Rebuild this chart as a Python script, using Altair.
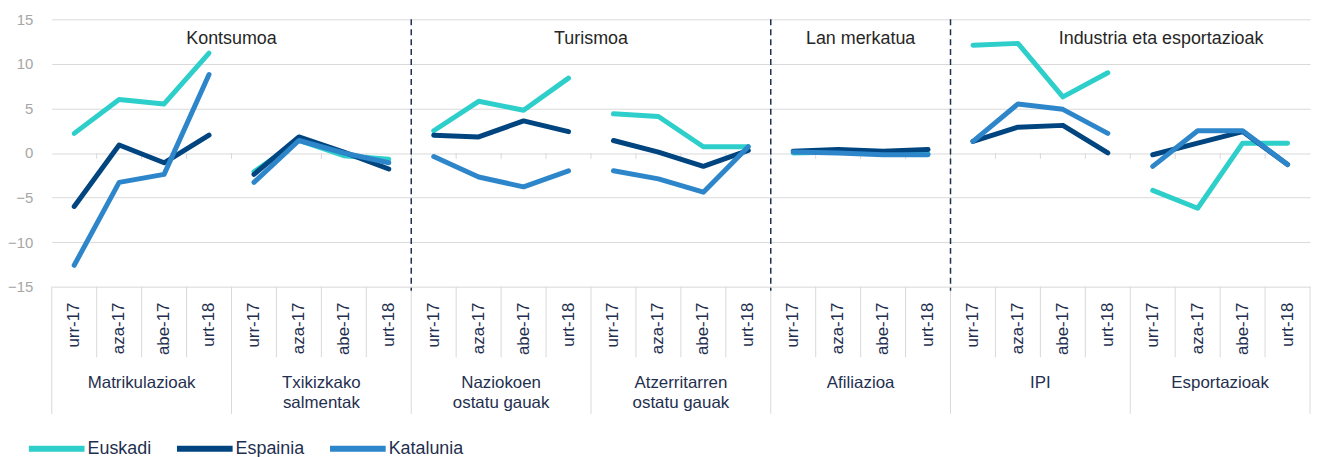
import altair as alt
import pandas as pd

months = ["urr-17", "aza-17", "abe-17", "urt-18"]
groups = ["Matrikulazioak", "Txikizkako\nsalmentak", "Naziokoen\nostatu gauak",
          "Atzerritarren\nostatu gauak", "Afiliazioa", "IPI", "Esportazioak"]
sections = ["Kontsumoa", "Turismoa", "Lan merkatua", "Industria eta esportazioak"]
section_groups = [2, 2, 1, 2]
series = ["Euskadi", "Espainia", "Katalunia"]
colors = ["#2ECFCB", "#00457F", "#2E86CA"]

euskadi = [2.2, 6.0, 5.5, 11.2, -2.1, 1.4, -0.3, -0.7, 2.5, 5.8, 4.8, 8.4,
           4.4, 4.1, 0.7, 0.7, 0.0, 0.1, -0.1, -0.1, 12.1, 12.3, 6.3, 9.0,
           -4.2, -6.2, 1.1, 1.1]
espainia = [-6.0, 0.9, -1.1, 2.0, -2.4, 1.8, 0.1, -1.8, 2.0, 1.8, 3.6, 2.4,
            1.4, 0.1, -1.5, 0.3, 0.2, 0.4, 0.2, 0.4, 1.3, 2.9, 3.1, 0.0,
            -0.2, 1.1, 2.4, -1.3]
katalunia = [-12.6, -3.3, -2.4, 8.8, -3.3, 1.4, 0.0, -1.1, -0.4, -2.7, -3.8, -2.0,
             -2.0, -2.9, -4.4, 0.7, 0.1, 0.0, -0.2, -0.2, 1.3, 5.5, 4.9, 2.2,
             -1.5, 2.5, 2.5, -1.3]
values = {"Euskadi": euskadi, "Espainia": espainia, "Katalunia": katalunia}

FONT = "Liberation Sans"
TEXT = "#1F2F4F"
W, H = 1266, 269
n_cat = len(groups) * len(months)
zero_px = H * 15 / 30

rows = []
for s in series:
    for gi, g in enumerate(groups):
        for mi, m in enumerate(months):
            i = gi * len(months) + mi
            rows.append({"series": s, "group": "g%d" % gi, "month": m, "pos": i + 0.5,
                         "value": values[s][i]})
df = pd.DataFrame(rows)

cats = pd.DataFrame([{"pos": gi * len(months) + mi + 0.5, "month": m}
                     for gi in range(len(groups)) for mi, m in enumerate(months)])
grp = pd.DataFrame([{"pos": gi * len(months) + len(months) / 2, "label": g}
                    for gi, g in enumerate(groups)])
inner = pd.DataFrame({"b": [b for b in range(1, n_cat) if b % len(months)]})
outer = pd.DataFrame({"b": list(range(0, n_cat + 1, len(months)))})
zt = pd.DataFrame({"b": list(range(1, n_cat))})

cum = []
acc = 0
for k in section_groups:
    cum.append((acc, acc + k))
    acc += k
sec = pd.DataFrame([{"label": sections[i], "center": (a + b) * len(months) / 2}
                    for i, (a, b) in enumerate(cum)])
sep = pd.DataFrame({"x": [b * len(months) for (_, b) in cum[:-1]]})

xs = alt.Scale(domain=[0, n_cat], nice=False, zero=False)
ys = alt.Scale(domain=[-15, 15], nice=False)

def X(field):
    return alt.X(field, type="quantitative", scale=xs, axis=None)

lines = alt.Chart(df).mark_line(strokeWidth=5, strokeCap="round", strokeJoin="round").encode(
    x=X("pos"),
    y=alt.Y("value:Q", scale=ys,
            axis=alt.Axis(values=[-15, -10, -5, 0, 5, 10, 15], grid=True,
                          gridColor="#D9D9D9", gridWidth=1, domain=False, ticks=False,
                          labelColor="#A6A6A6", labelFontSize=15, labelFont=FONT,
                          labelPadding=19, title=None)),
    color=alt.Color("series:N", scale=alt.Scale(domain=series, range=colors),
                    legend=alt.Legend(orient="none", legendX=-26, legendY=401,
                                      direction="horizontal", title=None,
                                      symbolType="stroke", symbolSize=3136,
                                      symbolStrokeWidth=6, labelFontSize=18,
                                      labelFont=FONT, labelColor=TEXT,
                                      columnPadding=13, labelOffset=0, padding=0)),
    detail="group:N",
)

zero_ticks = alt.Chart(zt).mark_rule(color="#D9D9D9", strokeWidth=1).encode(
    x=X("b"), y=alt.value(zero_px), y2=alt.value(zero_px + 6))

minor = alt.Chart(inner).mark_rule(color="#D9D9D9", strokeWidth=1).encode(
    x=X("b"), y=alt.value(H), y2=alt.value(H + 71))
major = alt.Chart(outer).mark_rule(color="#D9D9D9", strokeWidth=1).encode(
    x=X("b"), y=alt.value(H), y2=alt.value(H + 128))

dashed = alt.Chart(sep).mark_rule(color="#1F3050", strokeWidth=1.5,
                                  strokeDash=[6, 4]).encode(
    x=X("x"), y=alt.value(0), y2=alt.value(H + 4))

month_text = alt.Chart(cats).mark_text(angle=270, align="right", baseline="middle",
                                       fontSize=17, font=FONT, color=TEXT).encode(
    x=X("pos"), y=alt.value(H + 16), text="month:N")

group_text = alt.Chart(grp).mark_text(align="center", baseline="alphabetic",
                                      lineBreak="\n", lineHeight=20,
                                      fontSize=17, font=FONT, color=TEXT).encode(
    x=X("pos"), y=alt.value(H + 102), text="label:N")

sec_main = alt.Chart(sec[sec["label"] != sections[-1]]).mark_text(
    align="center", baseline="alphabetic", fontSize=18, font=FONT,
    color="#262626").encode(x=X("center"), y=alt.value(24.5), text="label:N")
sec_last = alt.Chart(sec[sec["label"] == sections[-1]]).mark_text(
    align="center", baseline="alphabetic", fontSize=18, font=FONT, dx=31,
    color="#262626").encode(x=X("center"), y=alt.value(24.5), text="label:N")

chart = alt.layer(zero_ticks, minor, major, dashed, lines, month_text, group_text,
                  sec_main, sec_last).properties(
    width=W, height=H, autosize="none",
    padding={"left": 44, "top": 10, "right": 4, "bottom": 170},
).configure_view(strokeWidth=0)

chart.save("out.html", embed_options={"renderer": "svg", "actions": False})
